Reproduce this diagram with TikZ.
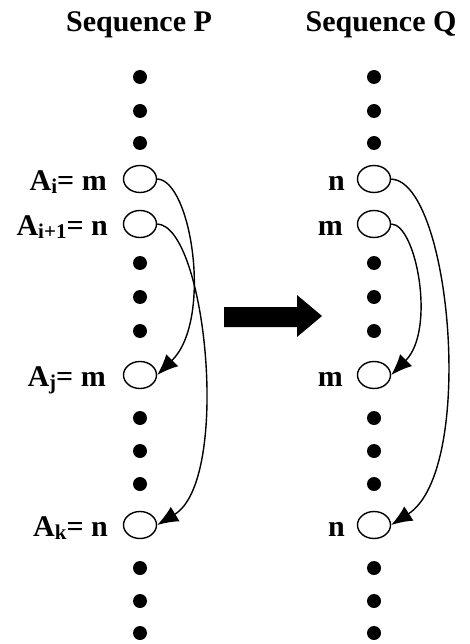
\documentclass[tikz,border=0pt]{standalone}
\usepackage{fontspec}
\setmainfont{Liberation Serif}
\usetikzlibrary{shapes.geometric,arrows.meta}
\newcommand\lsub[1]{\raisebox{-3pt}{\fontsize{21}{21}\selectfont #1}}
\begin{document}
\begin{tikzpicture}[x=1pt,y=-1pt,
  dot/.style={circle,fill=black,inner sep=0pt,minimum size=14pt},
  slot/.style={ellipse,draw,line width=1.4pt,inner sep=0pt,minimum width=33pt,minimum height=27pt},
  lbl/.style={anchor=base east,font=\fontsize{30}{32}\selectfont\bfseries,inner sep=0pt},
  ttl/.style={anchor=base,font=\fontsize{30}{32}\selectfont\bfseries,inner sep=0pt},
  link/.style={line width=1.4pt,-{Latex[length=21pt,width=17pt]}}]
\useasboundingbox (0,0) rectangle (470,644);
% titles
\node[ttl] (tp) at (139,32) {Sequence P};
\node[ttl] (tq) at (381,32) {Sequence Q};
% dots
\foreach \y [count=\k] in {77,111,143,263,297,331,418,451,484,568,601,633}{
  \node[dot] (pd\k) at (140,\y) {};
  \node[dot] (qd\k) at (374,\y) {};
}
% slots
\node[slot] (pi) at (140,179) {};
\node[slot] (pii) at (140,224) {};
\node[slot] (pj) at (140,375) {};
\node[slot] (pk) at (140,525) {};
\node[slot] (qi) at (374,179) {};
\node[slot] (qii) at (374,224) {};
\node[slot] (qj) at (374,375) {};
\node[slot] (qk) at (374,525) {};
% labels
\node[lbl] (lpi) at (107,190) {A\lsub{i}= m};
\node[lbl] (lpii) at (108,235) {A\lsub{i+1}= n};
\node[lbl] (lpj) at (106,386) {A\lsub{j}= m};
\node[lbl] (lpk) at (108,536) {A\lsub{k}= n};
\node[lbl] (lqi) at (345,190) {n};
\node[lbl] (lqii) at (343,235) {m};
\node[lbl] (lqj) at (343,386) {m};
\node[lbl] (lqk) at (345,536) {n};
% connectors
\draw[link] (pi.east) .. controls +(34,1) and +(56,-55) .. (pj.east);
\draw[link] (pii.east) .. controls +(49,2) and +(74,-45) .. (pk.east);
\draw[link] (qi.east) .. controls +(60,3) and +(85,-55) .. (qk.east);
\draw[link] (qii.east) .. controls +(25,0) and +(45,-45) .. (qj.east);
% block arrow
\fill (224,307) -- (297,307) -- (297,295) -- (322,316) -- (297,337) -- (297,327) -- (224,327) -- cycle;
\end{tikzpicture}
\end{document}
